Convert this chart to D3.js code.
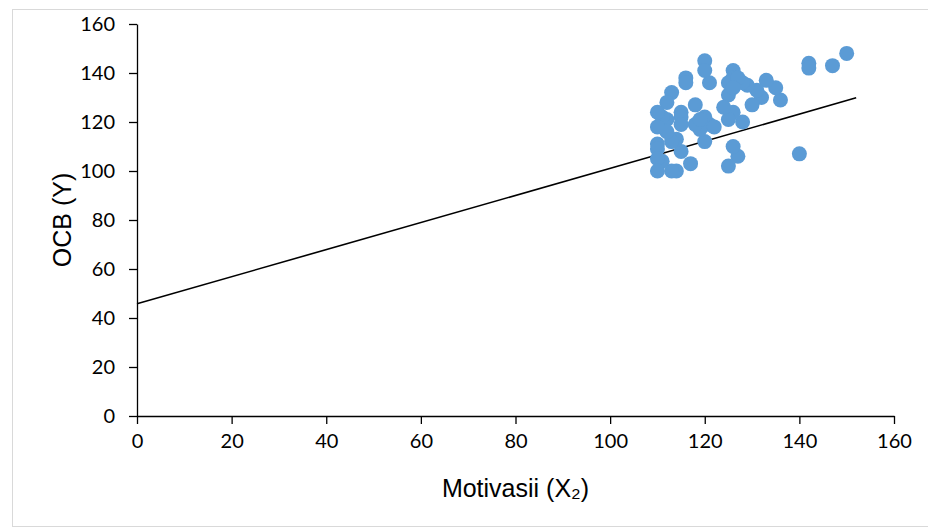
<!DOCTYPE html>
<html>
<head>
<meta charset="utf-8">
<script src="https://cdn.jsdelivr.net/npm/d3@7"></script>
<style>
  body { margin: 0; background: #fff; }
  svg { display: block; }
</style>
</head>
<body>
<div id="chart"></div>
<script>
// Motivasii (X2) vs OCB (Y) scatter
const xValues = [150, 147, 142, 142, 140, 136, 135, 133, 132, 131, 130, 129, 128, 128, 127,
  126, 126, 126, 126, 125, 125, 125, 125, 124, 121, 121, 120, 120, 120, 120,
  119, 118, 118, 117, 116, 116, 115, 115, 115, 115, 114, 114, 113, 113, 113,
  112, 112, 112, 111, 111, 110, 110, 110, 110, 110, 110, 127, 126, 122, 119];
const yValues = [148, 143, 144, 142, 107, 129, 134, 137, 130, 133, 127, 135, 136, 120, 106,
  141, 138, 124, 110, 136, 131, 121, 102, 126, 136, 119, 145, 141, 122, 112,
  117, 127, 119, 103, 138, 136, 124, 122, 119, 108, 113, 100, 132, 112, 100,
  128, 121, 116, 122, 104, 124, 118, 111, 109, 105, 100, 138, 134, 118, 121];

const xTicks = [0, 20, 40, 60, 80, 100, 120, 140, 160];
const yTicks = [0, 20, 40, 60, 80, 100, 120, 140, 160];

// linear trendline as drawn in the picture
const trendIntercept = 45.8;
const trendSlope = 0.553;
const trendXEnd = 152;

const width = 928, height = 529;
const margin = { left: 137, right: 34, top: 24, bottom: 113 };

const svg = d3.select("#chart").append("svg")
  .attr("width", width)
  .attr("height", height);

// outer chart border
svg.append("rect")
  .attr("x", 12.5).attr("y", 9.5)
  .attr("width", 940).attr("height", 517)
  .attr("fill", "none")
  .attr("stroke", "#d9d9d9");

const x = d3.scaleLinear().domain([0, 160]).range([margin.left, width - margin.right]);
const y = d3.scaleLinear().domain([0, 160]).range([height - margin.bottom, margin.top]);

const tickFont = "Lato, 'Open Sans', sans-serif";

const xAxis = svg.append("g")
  .attr("transform", `translate(0,${y(0)})`)
  .call(d3.axisBottom(x).tickValues(xTicks).tickSize(8).tickPadding(10).tickSizeOuter(0));

const yAxis = svg.append("g")
  .attr("transform", `translate(${x(0)},0)`)
  .call(d3.axisLeft(y).tickValues(yTicks).tickSize(8).tickPadding(14).tickSizeOuter(0));

[xAxis, yAxis].forEach(g => {
  g.select(".domain").attr("stroke", "#000").attr("stroke-width", 1.3);
  g.selectAll(".tick line").attr("stroke", "#000").attr("stroke-width", 1.3);
  g.selectAll(".tick text")
    .attr("fill", "#000")
    .style("font-family", tickFont)
    .style("font-size", "20px");
});

// trendline
svg.append("line")
  .attr("x1", x(0)).attr("y1", y(trendIntercept))
  .attr("x2", x(trendXEnd)).attr("y2", y(trendIntercept + trendSlope * trendXEnd))
  .attr("stroke", "#000")
  .attr("stroke-width", 1.6);

// points
const points = xValues.map((v, i) => ({ x: v, y: yValues[i] }));
svg.append("g")
  .selectAll("circle")
  .data(points)
  .enter().append("circle")
  .attr("cx", d => x(d.x))
  .attr("cy", d => y(d.y))
  .attr("r", 7.5)
  .attr("fill", "#5b9bd5");

// axis titles
svg.append("text")
  .attr("x", (x(0) + x(160)) / 2)
  .attr("y", 497)
  .attr("text-anchor", "middle")
  .style("font-family", "'Liberation Sans', Arial, sans-serif")
  .style("font-size", "25px")
  .text("Motivasii (X₂)");

svg.append("text")
  .attr("transform", `translate(71,${(y(0) + y(160)) / 2}) rotate(-90)`)
  .attr("text-anchor", "middle")
  .style("font-family", "'Liberation Sans', Arial, sans-serif")
  .style("font-size", "25px")
  .text("OCB (Y)");
</script>
</body>
</html>
